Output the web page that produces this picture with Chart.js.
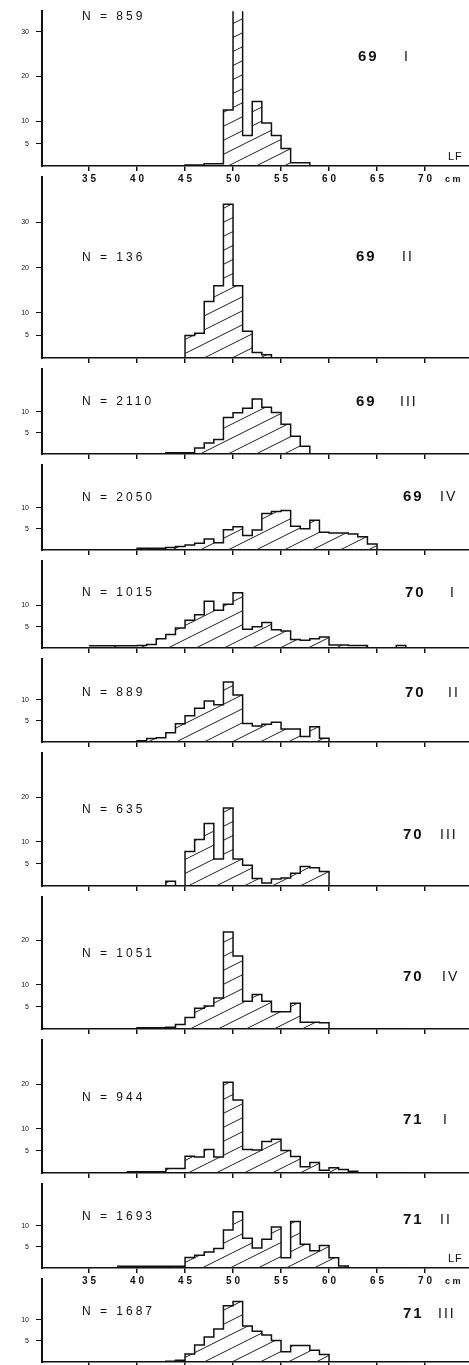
<!DOCTYPE html>
<html>
<head>
<meta charset="utf-8">
<script src="https://cdn.jsdelivr.net/npm/chart.js@4.4.1/dist/chart.umd.min.js"></script>
<style>
    html, body { margin: 0; padding: 0; background: #fff; }
    #wrap { position: relative; width: 469px; height: 1365px; overflow: hidden; }
    #wrap canvas { position: absolute; left: 0; }
</style>
</head>
<body>
<div id="wrap"></div>
<script>
// length classes (cm), one bin per cm, left edges
const lengthClasses = [35, 36, 37, 38, 39, 40, 41, 42, 43, 44, 45, 46, 47, 48, 49, 50, 51,
                       52, 53, 54, 55, 56, 57, 58, 59, 60, 61, 62, 63, 64, 65, 66, 67];

// frequencies (%) per class
const freq69I   = [0, 0, 0, 0, 0, 0, 0, 0, 0, 0, 0.2, 0.2, 0.5, 0.5, 12.5, 43, 6.8, 14.4, 9.6, 6.8, 3.9, 0.7, 0.7, 0, 0, 0, 0, 0, 0, 0, 0, 0, 0];
const freq69II  = [0, 0, 0, 0, 0, 0, 0, 0, 0, 0, 5, 5.5, 12.5, 16, 34, 16, 5.9, 1.2, 0.7, 0, 0, 0, 0, 0, 0, 0, 0, 0, 0, 0, 0, 0, 0];
const freq69III = [0, 0, 0, 0, 0, 0, 0, 0, 0.3, 0.3, 0.3, 1.4, 2.6, 3.4, 8.6, 9.7, 10.8, 13, 11, 9.8, 7, 4.2, 1.8, 0, 0, 0, 0, 0, 0, 0, 0, 0, 0];
const freq69IV  = [0, 0, 0, 0, 0, 0.4, 0.4, 0.4, 0.6, 0.8, 1.2, 1.6, 2.6, 1.7, 4.8, 5.5, 3.4, 4.7, 8.6, 9.1, 9.3, 5.6, 5.0, 7.0, 4.2, 4.0, 4.0, 3.8, 3.1, 1.4, 0, 0, 0];
const freq70I   = [0.5, 0.5, 0.5, 0.5, 0.5, 0.6, 0.8, 2.2, 3.2, 4.7, 6.5, 7.8, 11, 8.9, 10.3, 13, 4.4, 5, 6, 4.3, 4, 2, 1.8, 2.2, 2.6, 0.7, 0.7, 0.6, 0.6, 0, 0, 0, 0.6];
const freq70II  = [0, 0, 0, 0, 0, 0.3, 0.8, 1.0, 2.2, 4.3, 6.2, 8, 9.7, 8.8, 14.2, 11.1, 4.4, 3.8, 4.2, 4.7, 3.1, 3.1, 1.3, 3.6, 0.9, 0, 0, 0, 0, 0, 0, 0, 0];
const freq70III = [0, 0, 0, 0, 0, 0, 0, 0, 1.1, 0, 7.8, 10.5, 14.1, 6.1, 17.6, 6.1, 4.7, 1.7, 0.7, 1.6, 1.8, 2.9, 4.4, 4.1, 3.3, 0, 0, 0, 0, 0, 0, 0, 0];
const freq70IV  = [0, 0, 0, 0, 0, 0.3, 0.3, 0.3, 0.4, 1.0, 2.6, 4.7, 5.2, 7.0, 21.9, 16.5, 6.3, 7.8, 6.3, 3.9, 3.9, 5.8, 1.5, 1.5, 1.4, 0, 0, 0, 0, 0, 0, 0, 0];
const freq71I   = [0, 0, 0, 0, 0.3, 0.3, 0.3, 0.3, 1.0, 1.0, 3.8, 3.6, 5.3, 3.6, 20.5, 16.5, 5.3, 5.2, 7.1, 7.6, 5.1, 3.7, 1.4, 2.4, 0.6, 1.2, 0.8, 0.4, 0, 0, 0, 0, 0];
const freq71II  = [0, 0, 0, 0.4, 0.4, 0.4, 0.4, 0.4, 0.4, 0.4, 2.5, 3.0, 3.8, 4.6, 9, 13.3, 7, 4.7, 6.8, 9.7, 2.4, 11, 5.6, 4.1, 5.3, 2.4, 0.5, 0, 0, 0, 0, 0, 0];
const freq71III = [0, 0, 0, 0, 0, 0, 0, 0, 0.2, 0.4, 1.9, 4, 5.9, 7.8, 13.3, 14.3, 8.5, 7.3, 6.4, 5.1, 2.4, 3.9, 3.9, 2.8, 1.8, 0, 0, 0, 0, 0, 0, 0, 0];

const allFreqs = [freq69I, freq69II, freq69III, freq69IV, freq70I, freq70II, freq70III, freq70IV, freq71I, freq71II, freq71III];
const sampleSizes = [859, 136, 2110, 2050, 1015, 889, 635, 1051, 944, 1693, 1687];
const years = ['69', '69', '69', '69', '70', '70', '70', '70', '71', '71', '71'];
const quarters = ['I', 'II', 'III', 'IV', 'I', 'II', 'III', 'IV', 'I', 'II', 'III'];
const xTickValues = [35, 40, 45, 50, 55, 60, 65, 70];
const yTickValues = [5, 10, 20, 30];

// layout (pixels)
const PX_PER_UNIT = 4.8;
const AXIS_H = 24;
const baselines = [166, 358, 454, 550, 648, 742, 886, 1029, 1173, 1268, 1362];
const labelledPanels = [0, 9];
const nRise = [149, 100, 52, 52, 55, 49, 76, 75, 75, 51, 50];
const periodRise = [109, 101, 52, 53, 55, 49, 51, 52, 53, 48, 48];
const yearX = [358, 356, 356, 403, 405, 405, 403, 403, 403, 403, 403];
const quarterX = [404, 402, 400, 440, 450, 448, 440, 442, 443, 440, 438];

Chart.defaults.font.family = '"Liberation Sans", Arial, sans-serif';
Chart.defaults.color = '#111';

function makeHatch() {
    const c = document.createElement('canvas');
    c.width = 28;
    c.height = 14;
    const g = c.getContext('2d');
    g.strokeStyle = '#222';
    g.lineWidth = 1;
    g.beginPath();
    [0, 14, 28].forEach(off => {
        g.moveTo(-2, off + 1);
        g.lineTo(30, off - 15);
    });
    g.stroke();
    return g.createPattern(c, 'repeat');
}
const hatch = makeHatch();

const annotate = {
    id: 'annotate',
    afterDraw(chart, args, opts) {
        const ctx = chart.ctx;
        const x = chart.scales.x;
        const base = chart.scales.y.getPixelForValue(0);
        ctx.save();
        ctx.fillStyle = '#111';
        ctx.textBaseline = 'middle';
        ctx.textAlign = 'left';

        ctx.font = '12px "Liberation Sans", Arial, sans-serif';
        ctx.letterSpacing = '3px';
        ctx.fillText('N = ' + opts.n, 82, base - opts.nRise);

        ctx.font = 'bold 15px "Liberation Sans", Arial, sans-serif';
        ctx.letterSpacing = '2px';
        ctx.fillText(opts.year, opts.yearX, base - opts.periodRise);

        ctx.font = '14px "Liberation Sans", Arial, sans-serif';
        ctx.letterSpacing = '2px';
        ctx.fillText(opts.quarter, opts.quarterX, base - opts.periodRise);

        if (opts.units) {
            ctx.font = '11px "Liberation Sans", Arial, sans-serif';
            ctx.letterSpacing = '1px';
            ctx.fillText('LF', 448, base - 9);
            ctx.font = 'bold 9px "Liberation Sans", Arial, sans-serif';
            ctx.letterSpacing = '0px';
            ctx.textAlign = 'center';
            ctx.fillText('c m', x.getPixelForValue(72.9), base + 14);
        }
        ctx.restore();
    }
};

const wrap = document.getElementById('wrap');

allFreqs.forEach((freqs, i) => {
    const top = i === 0 ? 0 : baselines[i - 1];
    const chartH = baselines[i] - top;
    const yMax = chartH / PX_PER_UNIT;
    const labelled = labelledPanels.includes(i);

    const canvas = document.createElement('canvas');
    canvas.width = 469;
    canvas.height = chartH + AXIS_H;
    canvas.style.top = top + 'px';
    wrap.appendChild(canvas);

    // each class value holds from its left edge to the next edge
    const points = lengthClasses.map((c, k) => ({ x: c, y: freqs[k] }));
    points.push({ x: lengthClasses[lengthClasses.length - 1] + 1, y: 0 });

    new Chart(canvas, {
        type: 'line',
        data: {
            datasets: [{
                data: points,
                stepped: 'before',
                fill: 'origin',
                backgroundColor: hatch,
                borderColor: '#111',
                borderWidth: 1.5,
                pointRadius: 0
            }]
        },
        options: {
            responsive: false,
            animation: false,
            layout: { padding: 0, autoPadding: false },
            plugins: {
                legend: { display: false },
                tooltip: { enabled: false },
                annotate: {
                    n: sampleSizes[i],
                    year: years[i],
                    quarter: quarters[i],
                    nRise: nRise[i],
                    periodRise: periodRise[i],
                    yearX: yearX[i],
                    quarterX: quarterX[i],
                    units: labelled
                }
            },
            scales: {
                x: {
                    type: 'linear',
                    min: 30.1,
                    max: 74.58,
                    afterFit: s => { s.height = AXIS_H; },
                    afterBuildTicks: s => { s.ticks = xTickValues.map(v => ({ value: v })); },
                    grid: { drawOnChartArea: false, drawTicks: true, tickLength: 5, color: '#111', lineWidth: 1.5 },
                    border: { color: '#111', width: 1.6 },
                    ticks: {
                        display: labelled,
                        autoSkip: false,
                        maxRotation: 0,
                        padding: 2,
                        font: { size: 10, weight: 'bold' },
                        callback: v => String(v).split('').join(' ')
                    }
                },
                y: {
                    min: 0,
                    max: yMax,
                    afterFit: s => { s.width = 42; },
                    afterBuildTicks: s => {
                        s.ticks = yTickValues.filter(v => v < yMax - 1).map(v => ({ value: v }));
                    },
                    grid: { drawOnChartArea: false, tickLength: 6, color: '#111', lineWidth: 1 },
                    border: { color: '#111', width: 2 },
                    ticks: { padding: 7, font: { size: 7 } }
                }
            }
        },
        plugins: [annotate]
    });
});
</script>
</body>
</html>
